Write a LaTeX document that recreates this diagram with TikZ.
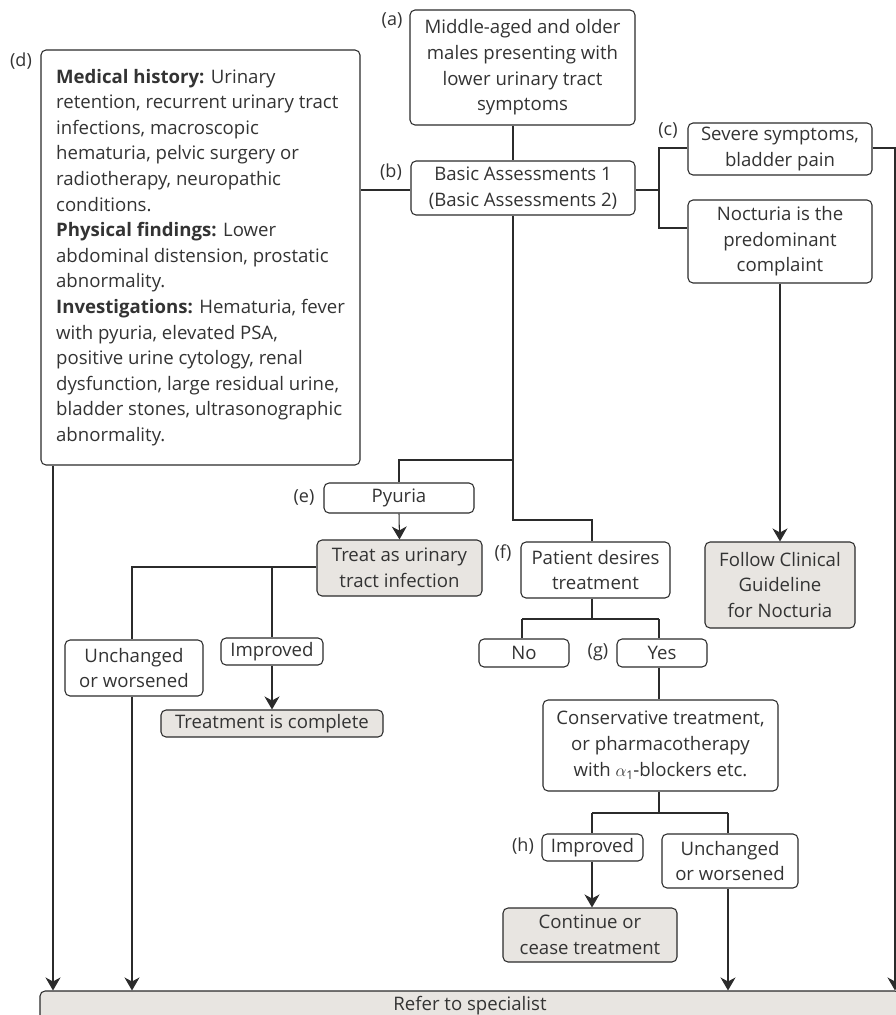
\documentclass[tikz,border=0pt]{standalone}
\usepackage{fontspec}
\setmainfont{Open Sans}
\usetikzlibrary{arrows.meta}
\definecolor{ln}{HTML}{2B2B2B}
\definecolor{gf}{HTML}{E8E5E1}
\definecolor{tx}{HTML}{333333}
\begin{document}
\begin{tikzpicture}[x=1pt,y=-1pt,
  every node/.style={font=\fontsize{18.6}{25.6}\selectfont, text=tx},
  box/.style={draw=ln, line width=1.05pt, rounded corners=5pt, fill=white, align=center, inner sep=0pt},
  gbox/.style={box, fill=gf},
  lab/.style={font=\fontsize{18}{20}\selectfont, inner sep=0pt},
  conn/.style={draw=ln, line width=1.05pt},
  arr/.style={conn, -{Stealth[length=13pt,width=15pt,inset=4pt]}}
]
\path[use as bounding box] (0,0) rectangle (896,1015);
\clip (0,0) rectangle (896,1015);

% nodes
\node[box, minimum width=225, minimum height=115] (a) at (522.5,67.5) {Middle-aged and older\\males presenting with\\lower urinary tract\\symptoms};
\node[box, minimum width=224, minimum height=54] (b) at (523,188) {Basic Assessments 1\\(Basic Assessments 2)};
\node[box, minimum width=184, minimum height=52] (c) at (780,149) {Severe symptoms,\\bladder pain};
\node[box, minimum width=184, minimum height=83] (noct) at (780,241.5) {Nocturia is the\\predominant\\complaint};
\node[gbox, minimum width=150, minimum height=86] (follow) at (780,585) {Follow Clinical\\Guideline\\for Nocturia};
\node[box, align=left, minimum width=319, minimum height=415] (d) at (200.5,257.5) {\textbf{Medical history:} Urinary\\retention, recurrent urinary tract\\infections, macroscopic\\hematuria, pelvic surgery or\\radiotherapy, neuropathic\\conditions.\\\textbf{Physical findings:} Lower\\abdominal distension, prostatic\\abnormality.\\\textbf{Investigations:} Hematuria, fever\\with pyuria, elevated PSA,\\positive urine cytology, renal\\dysfunction, large residual urine,\\bladder stones, ultrasonographic\\abnormality.};
\node[box, minimum width=150, minimum height=30] (pyuria) at (399,498) {Pyuria};
\node[gbox, minimum width=165, minimum height=56] (treat) at (399.5,568) {Treat as urinary\\tract infection};
\node[box, minimum width=149, minimum height=56] (f) at (595.5,570) {Patient desires\\treatment};
\node[box, minimum width=138, minimum height=56] (unchL) at (134,668) {Unchanged\\or worsened};
\node[box, minimum width=102, minimum height=27] (impL) at (272,651.5) {Improved};
\node[gbox, minimum width=222, minimum height=27] (complete) at (272,723.5) {Treatment is complete};
\node[box, minimum width=90, minimum height=28] (no) at (524,653) {No};
\node[box, minimum width=90, minimum height=28] (yes) at (662,653) {Yes};
\node[box, minimum width=235, minimum height=91] (cons) at (660.5,745.5) {Conservative treatment,\\or pharmacotherapy\\with $\alpha$\raisebox{-0.35ex}{\fontsize{12}{12}\selectfont 1}-blockers etc.};
\node[box, minimum width=101, minimum height=27] (imph) at (592.5,847.5) {Improved};
\node[box, minimum width=136, minimum height=54] (unchR) at (730,861) {Unchanged\\or worsened};
\node[gbox, minimum width=174, minimum height=54] (cont) at (590,935) {Continue or\\cease treatment};
\node[gbox, minimum width=860, minimum height=30] (refer) at (470,1006) {Refer to specialist};

% labels
\node[lab] (la) at (392,20) {(a)};
\node[lab] (lb) at (391,172) {(b)};
\node[lab] (lc) at (668,130) {(c)};
\node[lab] (ld) at (21,61) {(d)};
\node[lab] (le) at (304,497) {(e)};
\node[lab] (lf) at (503,553) {(f)};
\node[lab] (lg) at (598,652) {(g)};
\node[lab] (lh) at (523,846) {(h)};

% junction coordinates
\coordinate (xab) at (513,0);
\coordinate (jb) at (659,190);
\coordinate (jc1) at (659,148);
\coordinate (jc2) at (659,228);
\coordinate (rr) at (895,148);
\coordinate (xd) at (53,0);
\coordinate (j1) at (513,460);
\coordinate (j1l) at (399,460);
\coordinate (j2) at (513,520);
\coordinate (j3) at (592,520);
\coordinate (t1) at (132,567);
\coordinate (t2) at (272,567);
\coordinate (fj) at (592,619);
\coordinate (fn) at (522,619);
\coordinate (fy) at (659,619);
\coordinate (cj) at (659,813);
\coordinate (ch) at (592,813);
\coordinate (cu) at (728,813);

% connectors
\draw[conn] (a.south -| xab) -- (b.north -| xab);
\draw[conn] (d.east |- jb) -- (b.west |- jb);
\draw[conn] (b.east |- jb) -- (jb);
\draw[conn] (c.west |- jc1) -- (jc1) -- (jc2) -- (noct.west |- jc2);
\draw[arr] (c.east |- rr) -- (rr) -- (refer.north -| rr);
\draw[arr] (noct.south) -- (follow.north);
\draw[arr] (d.south -| xd) -- (refer.north -| xd);
\draw[conn] (b.south -| xab) -- (j2) -- (j3) -- (f.north -| j3);
\draw[conn] (j1) -- (j1l) -- (pyuria.north);
\draw[arr] (pyuria.south) -- (treat.north);
\draw[conn] (treat.west |- t1) -- (t1) -- (unchL.north -| t1);
\draw[conn] (t2) -- (impL.north -| t2);
\draw[arr] (impL.south -| t2) -- (complete.north -| t2);
\draw[arr] (unchL.south -| t1) -- (refer.north -| t1);
\draw[conn] (f.south -| fj) -- (fj);
\draw[conn] (fn) -- (fy);
\draw[conn] (fn) -- (no.north -| fn);
\draw[conn] (fy) -- (yes.north -| fy);
\draw[conn] (yes.south -| fy) -- (cons.north -| fy);
\draw[conn] (cons.south -| cj) -- (cj);
\draw[conn] (ch) -- (cu);
\draw[conn] (ch) -- (imph.north -| ch);
\draw[conn] (cu) -- (unchR.north -| cu);
\draw[arr] (imph.south -| ch) -- (cont.north -| ch);
\draw[arr] (unchR.south -| cu) -- (refer.north -| cu);
\end{tikzpicture}
\end{document}
